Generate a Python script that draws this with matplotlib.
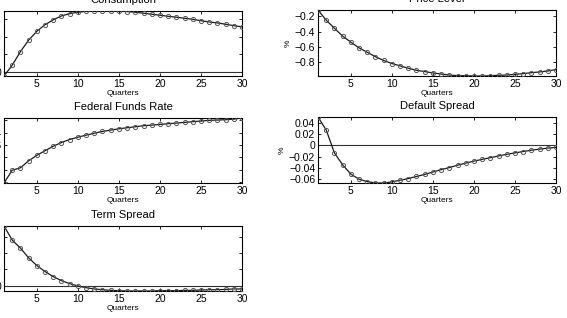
import matplotlib
matplotlib.use("Agg")
import matplotlib.pyplot as plt
import numpy as np

quarters = list(range(1, 31))

consumption = [-0.046, 0.076, 0.23, 0.36, 0.46, 0.535, 0.59, 0.634, 0.66, 0.676,
               0.687, 0.69, 0.69, 0.69, 0.687, 0.684, 0.676, 0.665, 0.653, 0.642,
               0.63, 0.62, 0.608, 0.596, 0.58, 0.566, 0.555, 0.54, 0.524, 0.51]
price_level = [-0.116, -0.249, -0.356, -0.458, -0.538, -0.613, -0.671, -0.729, -0.778, -0.818,
               -0.849, -0.88, -0.907, -0.924, -0.942, -0.956, -0.969, -0.978, -0.978, -0.982,
               -0.982, -0.978, -0.973, -0.969, -0.96, -0.951, -0.938, -0.929, -0.916, -0.898]
fed_funds = [-0.1216, -0.1009, -0.097, -0.0856, -0.0768, -0.0692, -0.062, -0.056, -0.0511, -0.0473,
             -0.044, -0.0408, -0.038, -0.0358, -0.0337, -0.032, -0.0304, -0.0287, -0.0277, -0.0266,
             -0.0255, -0.0244, -0.0233, -0.0222, -0.0211, -0.020, -0.0195, -0.019, -0.018, -0.0162]
default_spread = [0.0503, 0.0273, -0.0133, -0.0345, -0.0509, -0.060, -0.0642, -0.0667, -0.0667, -0.0648,
                  -0.0618, -0.0588, -0.0551, -0.0515, -0.0473, -0.043, -0.0394, -0.0351, -0.0315, -0.0279,
                  -0.0248, -0.0218, -0.0188, -0.0158, -0.0133, -0.0109, -0.0085, -0.0067, -0.0048, -0.0036]
term_spread = [0.0737, 0.0563, 0.0464, 0.0344, 0.0248, 0.0174, 0.0112, 0.0062, 0.0025, -0.0004,
               -0.0025, -0.0041, -0.005, -0.0058, -0.0062, -0.0066, -0.0066, -0.0066, -0.0066, -0.0062,
               -0.0062, -0.0062, -0.0058, -0.0058, -0.0054, -0.005, -0.005, -0.0046, -0.0041, -0.0041]

titles = ["Consumption", "Price Level", "Federal Funds Rate", "Default Spread", "Term Spread"]
series = [consumption, price_level, fed_funds, default_spread, term_spread]
yticks = [[0, 0.2, 0.4, 0.6],
          [-0.8, -0.6, -0.4, -0.2],
          [-0.12, -0.1, -0.08, -0.06, -0.04, -0.02],
          [-0.06, -0.04, -0.02, 0, 0.02, 0.04],
          [0, 0.02, 0.04, 0.06]]
yticklabels = [["0", "0.2", "0.4", "0.6"],
               ["\u22120.8", "\u22120.6", "\u22120.4", "\u22120.2"],
               ["\u22120.12", "\u22120.1", "\u22120.08", "\u22120.06", "\u22120.04", "\u22120.02"],
               ["\u22120.06", "\u22120.04", "\u22120.02", "0", "0.02", "0.04"],
               ["0", "0.02", "0.04", "0.06"]]
xticks = [5, 10, 15, 20, 25, 30]

plt.rcParams['font.family'] = ['Liberation Sans', 'DejaVu Sans']

fig = plt.figure(figsize=(5.67, 3.18), dpi=100)
W, H = 567.0, 318.0
lefts = [4, 318, 4, 318, 4]
tops = [11, 10, 118, 117, 226]
bottoms = [76, 76, 183, 183, 291]
width = 238

for i in range(5):
    l, t, b = lefts[i], tops[i], bottoms[i]
    ax = fig.add_axes([l / W, 1 - b / H, width / W, (b - t) / H])
    y = series[i]
    ax.plot(quarters, y, color='#1a1a1a', lw=0.9, zorder=3)
    ax.plot(quarters, y, linestyle='none', marker='o', ms=3.0, mfc='none',
            mec='#555555', mew=0.7, zorder=4)
    lo, hi = min(y), max(y)
    ax.set_ylim(lo, hi)
    ax.set_xlim(1, 30)
    if lo < 0 < hi:
        ax.axhline(0, color='#333333', lw=0.8, zorder=2)
    ax.set_xticks(xticks)
    ax.set_yticks(yticks[i])
    ax.set_yticklabels(yticklabels[i])
    ax.tick_params(direction='in', top=True, right=True, labelsize=7.5,
                   length=2.5, width=0.6, pad=2)
    for s in ax.spines.values():
        s.set_linewidth(0.8)
    ax.set_title(titles[i], fontsize=8, pad=6)
    ax.set_xlabel("Quarters", fontsize=6, labelpad=1)
    ax.set_ylabel("%", fontsize=6, labelpad=2)

fig.savefig("out.png", dpi=100)
